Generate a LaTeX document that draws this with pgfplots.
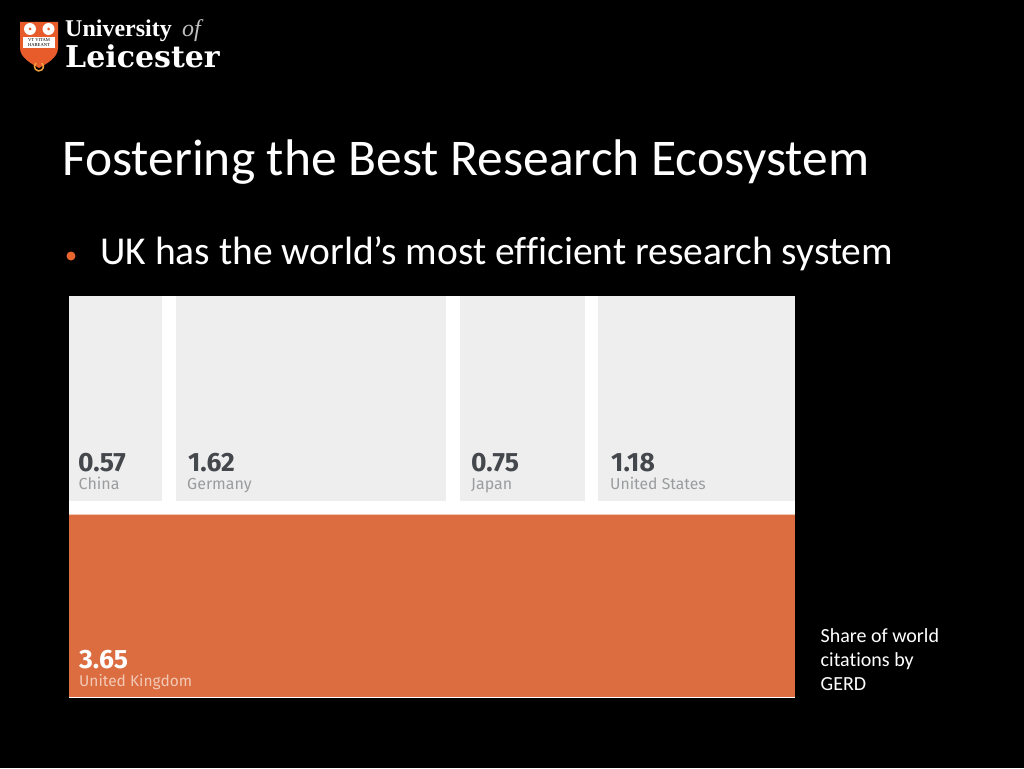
\documentclass[border=0pt]{standalone}
\usepackage{pgfplots}
\pgfplotsset{compat=1.18}
\usepackage{fontspec}
\setmainfont[Ligatures=NoCommon]{Carlito}
\newfontfamily\logofont{DejaVu Serif}
\newfontfamily\logotop{Liberation Serif}
\newfontfamily\tilefont{Fira Sans}
\definecolor{tile}{HTML}{EEEEEE}
\definecolor{uk}{HTML}{DB6D41}
\definecolor{bul}{HTML}{E8662E}
\definecolor{shield}{HTML}{E85C2C}
\definecolor{horse}{HTML}{F2A23A}
\definecolor{numc}{HTML}{44484C}
\definecolor{labc}{HTML}{9A9C9E}
\definecolor{ukl}{HTML}{F3C9B5}
\begin{document}
\begin{tikzpicture}[x=1pt,y=1pt]
\begin{axis}[
  scale only axis, width=1024pt, height=768pt,
  xmin=0, xmax=1024, ymin=0, ymax=768, y dir=reverse,
  axis lines=none, clip=true,
  tick style={draw=none}, xtick=\empty, ytick=\empty,
]
% background and white panel
\addplot[fill=black,draw=none] coordinates {(0,0)(1024,0)(1024,768)(0,768)} -- cycle;
\addplot[fill=white,draw=none] coordinates {(69,296)(795,296)(795,698)(69,698)} -- cycle;
% tiles: width follows the value
\addplot[fill=tile,draw=none] coordinates {(69,296)(161.5,296)(161.5,500.5)(69,500.5)} -- cycle;
\addplot[fill=tile,draw=none] coordinates {(175.5,296)(446,296)(446,500.5)(175.5,500.5)} -- cycle;
\addplot[fill=tile,draw=none] coordinates {(460,296)(585,296)(585,500.5)(460,500.5)} -- cycle;
\addplot[fill=tile,draw=none] coordinates {(598,296)(795,296)(795,500.5)(598,500.5)} -- cycle;
\addplot[fill=uk,draw=none] coordinates {(69,514)(795,514)(795,697)(69,697)} -- cycle;
\addplot[draw=ukl,line width=0.8pt] coordinates {(69,514)(795,514)};
% tile labels
\node[anchor=base west,inner sep=0,font=\tilefont\bfseries\fontsize{26.5}{26.5}\selectfont,text=numc] at (axis cs:78,471) {0.57};
\node[anchor=base west,inner sep=0,font=\tilefont\fontsize{16}{16}\selectfont,text=labc] at (axis cs:78.5,489) {China};
\node[anchor=base west,inner sep=0,font=\tilefont\bfseries\fontsize{26.5}{26.5}\selectfont,text=numc] at (axis cs:188,471) {1.62};
\node[anchor=base west,inner sep=0,font=\tilefont\fontsize{16}{16}\selectfont,text=labc] at (axis cs:187,489) {Germany};
\node[anchor=base west,inner sep=0,font=\tilefont\bfseries\fontsize{26.5}{26.5}\selectfont,text=numc] at (axis cs:471,471) {0.75};
\node[anchor=base west,inner sep=0,font=\tilefont\fontsize{16}{16}\selectfont,text=labc] at (axis cs:471,489) {Japan};
\node[anchor=base west,inner sep=0,font=\tilefont\bfseries\fontsize{26.5}{26.5}\selectfont,text=numc] at (axis cs:611,471) {1.18};
\node[anchor=base west,inner sep=0,font=\tilefont\fontsize{15.7}{16}\selectfont,text=labc] at (axis cs:610,489) {United States};
\node[anchor=base west,inner sep=0,font=\tilefont\bfseries\fontsize{26.5}{26.5}\selectfont,text=white] at (axis cs:79,668) {3.65};
\node[anchor=base west,inner sep=0,font=\tilefont\fontsize{15.5}{16}\selectfont,text=ukl] at (axis cs:79,686) {United Kingdom};
% slide text
\node[anchor=base west,inner sep=0,font=\fontsize{51.5}{52}\selectfont,text=white] at (axis cs:62,175) {Fostering the Best Research Ecosystem};
\node[anchor=base west,inner sep=0,font=\fontsize{39.5}{40}\selectfont,text=white] at (axis cs:100,264) {UK has the world’s most efficient research system};
\fill[bul] (axis cs:71,256) circle[radius=4.5];
\node[anchor=base west,inner sep=0,font=\fontsize{20}{20}\selectfont,text=white] at (axis cs:820.5,642) {Share of world};
\node[anchor=base west,inner sep=0,font=\fontsize{20}{20}\selectfont,text=white] at (axis cs:820.5,666) {citations by};
\node[anchor=base west,inner sep=0,font=\fontsize{20}{20}\selectfont,text=white] at (axis cs:820.5,690) {GERD};
% logo
\fill[shield] (axis cs:20,22) -- (axis cs:58,22) -- (axis cs:58,48) .. controls (axis cs:58,58) and (axis cs:46,64) .. (axis cs:39,68) .. controls (axis cs:32,64) and (axis cs:20,58) .. (axis cs:20,48) -- cycle;
\fill[white] (axis cs:30,29) circle[radius=6];
\fill[white] (axis cs:48.5,29) circle[radius=6];
\fill[shield] (axis cs:30,29) circle[radius=1.5];
\fill[shield] (axis cs:48.5,29) circle[radius=1.5];
\fill[white] (axis cs:23,37) rectangle (axis cs:55,48);
\node[inner sep=0,font=\logotop\fontsize{4.6}{5}\selectfont,text=black,align=center] at (axis cs:39,42.5) {VT VITAM\\[-0.6pt]HABEANT};
\draw[horse,line width=1.5pt] (axis cs:36,63) arc[start angle=230,end angle=-50,radius=4.5];
\node[anchor=base west,inner sep=0,font=\logotop\fontsize{24}{24}\selectfont\bfseries,text=white] at (axis cs:65,37) {University};
\node[anchor=base west,inner sep=0,font=\logotop\fontsize{24}{24}\selectfont\itshape,text=white!75!black] at (axis cs:182,37) {of};
\node[anchor=base west,inner sep=0,font=\logofont\fontsize{30}{30}\selectfont\bfseries,text=white] at (axis cs:65,67) {Leicester};
\end{axis}
\end{tikzpicture}
\end{document}
